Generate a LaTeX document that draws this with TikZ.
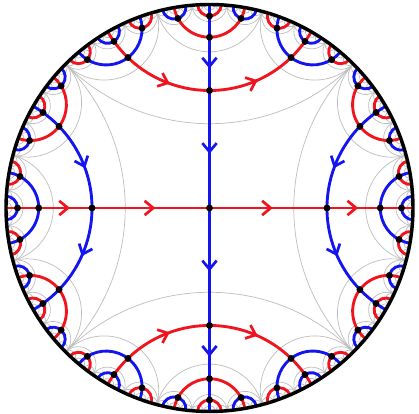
\documentclass[tikz,border=0pt]{standalone}
\usepackage{tikz}
\usetikzlibrary{arrows.meta,decorations.markings}
\definecolor{edgered}{HTML}{F0141E}
\definecolor{edgeblue}{HTML}{1414F0}
\definecolor{tilegray}{HTML}{BDBDBD}

% names of all tree vertices, for the dots
\def\dotlist{v}

% edge parent--child, arrow along generator (0 a, 1 b^-1, 2 a^-1, 3 b)
\newcommand\tedge[4]{%
  \ifcase#1 \path[#2] (#3) -- (#4);%
  \or \path[#2] (#4) -- (#3);%
  \or \path[#2] (#4) -- (#3);%
  \or \path[#2] (#3) -- (#4);%
  \fi}
\newcommand\tarcedge[7]{%
  \ifcase#1 \path[#2] (#3) arc[start angle=#5,end angle=#6,radius=#7];%
  \or \path[#2] (#4) arc[start angle=#6,end angle=#5,radius=#7];%
  \or \path[#2] (#4) arc[start angle=#6,end angle=#5,radius=#7];%
  \or \path[#2] (#3) arc[start angle=#5,end angle=#6,radius=#7];%
  \fi}

% #1 depth, #2 arc start, #3 arc width, #4 generator, #5 far end of through line, #6 name
\newcommand\treevtx[6]{%
  \begingroup
  \edef\tvm{\fpeval{#2+#3/2}}%
  \edef\tvd{\fpeval{#3/3}}%
  \edef\tvq{\fpeval{#5-\tvm-360*round((#5-\tvm)/360)}}%
  \edef\tkx{\fpeval{cosd(\tvd)}}%
  \edef\tky{\fpeval{(1-cosd(\tvd))*cotd(\tvq/2)}}%
  \edef\tkf{\fpeval{1/(1+sqrt(1-\tkx*\tkx-\tky*\tky))}}%
  \edef\tvx{\fpeval{round(\tkf*(\tkx*cosd(\tvm)-\tky*sind(\tvm)),6)}}%
  \edef\tvy{\fpeval{round(\tkf*(\tkx*sind(\tvm)+\tky*cosd(\tvm)),6)}}%
  \expandafter\xdef\csname px@#6\endcsname{\tvx}%
  \expandafter\xdef\csname py@#6\endcsname{\tvy}%
  \xdef\dotlist{\dotlist,#6}%
  \coordinate (#6) at (\tvx,\tvy);
  \ifodd#4\relax
    \def\tvc{redline}\def\tvca{redtip}\def\tvtb{bluetip}%
  \else
    \def\tvc{blueline}\def\tvca{bluetip}\def\tvtb{redtip}%
  \fi
  \edef\tsa{\fpeval{round(\tvm+90+\tvd,6)}}%
  \edef\tsb{\fpeval{round(\tvm+270-\tvd,6)}}%
  \edef\tcr{\fpeval{round(tand(\tvd),6)}}%
  \draw[\tvc] ({\tvm+\tvd}:1) arc[start angle=\tsa, end angle=\tsb, radius=\tcr];
  \ifnum#1<3
    \edef\tcw{\fpeval{#3/3}}%
    \edef\tga{\ifcase#4 3\or 0\or 1\or 2\fi}%
    \edef\tgc{\ifcase#4 1\or 2\or 3\or 0\fi}%
    \edef\tnd{\the\numexpr#1+1\relax}%
    \edef\tnext{\noexpand\treevtx{\tnd}{#2}{\tcw}{\tga}{\fpeval{\tvm+\tvd}}{#6-0}}\tnext
    \edef\tnext{\noexpand\treevtx{\tnd}{\fpeval{#2+\tcw}}{\tcw}{#4}{#5}{#6-1}}\tnext
    \edef\tnext{\noexpand\treevtx{\tnd}{\fpeval{#2+2*\tcw}}{\tcw}{\tgc}{\fpeval{\tvm-\tvd}}{#6-2}}\tnext
  \fi
  \ifnum#1=1
    \edef\tcx{\fpeval{cosd(\tvm)/cosd(\tvd)}}%
    \edef\tcy{\fpeval{sind(\tvm)/cosd(\tvd)}}%
    \edef\tpv{\fpeval{atand(\tvy-\tcy,\tvx-\tcx)}}%
    \edef\tpv{\fpeval{round(\tpv-360*round((\tpv-\tvm-180)/360),6)}}%
    \edef\tpa{\fpeval{atand(\csname py@#6-0\endcsname-\tcy,\csname px@#6-0\endcsname-\tcx)}}%
    \edef\tpa{\fpeval{round(\tpa-360*round((\tpa-\tvm-180)/360),6)}}%
    \edef\tpc{\fpeval{atand(\csname py@#6-2\endcsname-\tcy,\csname px@#6-2\endcsname-\tcx)}}%
    \edef\tpc{\fpeval{round(\tpc-360*round((\tpc-\tvm-180)/360),6)}}%
    \tarcedge{\tga}{\tvca}{#6}{#6-0}{\tpv}{\tpa}{\tcr}%
    \tarcedge{\tgc}{\tvca}{#6}{#6-2}{\tpv}{\tpc}{\tcr}%
    \tedge{#4}{\tvtb}{#6}{#6-1}%
  \fi
  \endgroup}

\begin{document}
\begin{tikzpicture}[
  x=5cm,y=5cm,
  redline/.style={draw=edgered,line width=2pt},
  blueline/.style={draw=edgeblue,line width=2pt},
  tile/.style={draw=tilegray,line width=0.5pt},
  rim/.style={draw=black,line width=2.4pt},
  midtip/.style={decorate,decoration={markings,
    mark=at position 0.5 with {\arrow[xshift=3.2pt]{Straight Barb[length=6pt,width=10pt,line width=1.9pt,color=#1]}}}},
  redtip/.style={midtip=edgered},
  bluetip/.style={midtip=edgeblue},
  vdot/.style={fill=black}
]
\useasboundingbox (-1.0295,-1.0123) rectangle (1.0295,1.0221);

% ideal tiles
\foreach \gw/\gn in {90/4,30/12,10/36,3.3333333/108,1.1111111/324} {
  \foreach \k in {1,...,\gn} {
    \edef\gm{\fpeval{round(-45+(\k-0.5)*\gw,6)}}
    \edef\gd{\fpeval{round(\gw/2,6)}}
    \edef\gr{\fpeval{round(tand(\gd),6)}}
    \draw[tile] ({\gm+\gd}:1) arc[start angle=\gm+90+\gd, end angle=\gm+270-\gd, radius=\gr];
  }
}

% tree
\coordinate (v) at (0,0);
\coordinate (east) at (0:1);
\coordinate (north) at (90:1);
\coordinate (west) at (180:1);
\coordinate (south) at (270:1);
\treevtx{1}{-45}{90}{0}{180}{v0}
\treevtx{1}{45}{90}{1}{270}{v1}
\treevtx{1}{135}{90}{2}{0}{v2}
\treevtx{1}{225}{90}{3}{90}{v3}
\draw[redline] (west) -- (east);
\draw[blueline] (north) -- (south);
\tedge{0}{redtip}{v}{v0}
\tedge{1}{bluetip}{v}{v1}
\tedge{2}{redtip}{v}{v2}
\tedge{3}{bluetip}{v}{v3}

\draw[rim] (v) circle[radius=1];
\foreach \p in \dotlist {\fill[vdot] (\p) circle[radius=2.4pt];}
\end{tikzpicture}
\end{document}
